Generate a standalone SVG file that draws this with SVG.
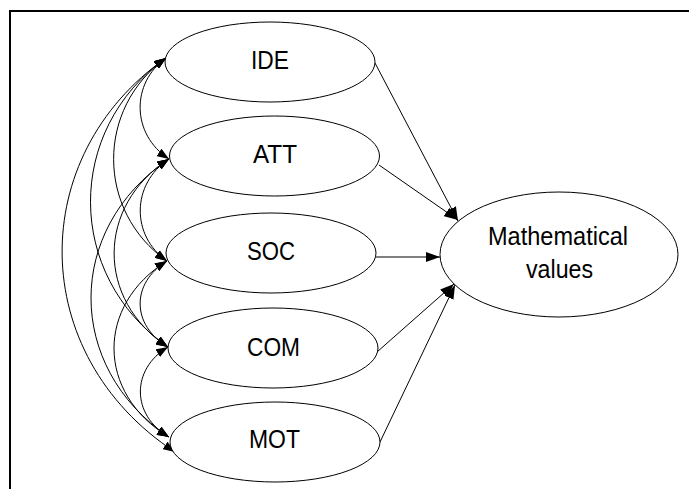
<svg xmlns="http://www.w3.org/2000/svg" width="689" height="489" viewBox="0 0 689 489">
<style>
.node ellipse{fill:#fff;stroke:#000;stroke-width:1}
.node text{font-family:"Liberation Sans",Arial,sans-serif;font-size:25px;fill:#000;text-anchor:middle}
.conn path,.conn line{fill:none;stroke:#000;stroke-width:1}
</style>
<defs>
<marker id="ah" viewBox="0 0 12 9" refX="12" refY="4.5" markerWidth="12" markerHeight="9" markerUnits="userSpaceOnUse" orient="auto-start-reverse"><path d="M0,0 L12,4.5 L0,9 z" fill="#000"/></marker>
<marker id="ah2" viewBox="0 0 14 10" refX="14" refY="5" markerWidth="14" markerHeight="10" markerUnits="userSpaceOnUse" orient="auto"><path d="M0,0 L14,5 L0,10 z" fill="#000"/></marker>
</defs>
<rect x="0" y="0" width="689" height="489" fill="#fff"/>
<rect x="10" y="11" width="700" height="500" fill="none" stroke="#000" stroke-width="2"/>
<g class="conn" id="connectors">
<path d="M166,58 C131,83 131,134 169,159" marker-start="url(#ah)" marker-end="url(#ah)"/>
<path d="M169,159 C131,184 131,236 167,261" marker-start="url(#ah)" marker-end="url(#ah)"/>
<path d="M167,261 C131,283 131,325 168,347" marker-start="url(#ah)" marker-end="url(#ah)"/>
<path d="M168,347 C131,369 131,415 169,437" marker-start="url(#ah)" marker-end="url(#ah)"/>
<path d="M166,58 C96,108 96,211 167,261" marker-start="url(#ah)" marker-end="url(#ah)"/>
<path d="M169,159 C96,206 96,300 168,347" marker-start="url(#ah)" marker-end="url(#ah)"/>
<path d="M167,261 C96,305 96,393 169,437" marker-start="url(#ah)" marker-end="url(#ah)"/>
<path d="M166,58 C65,130 65,275 168,347" marker-start="url(#ah)" marker-end="url(#ah)"/>
<path d="M169,159 C65,229 65,367 169,437" marker-start="url(#ah)" marker-end="url(#ah)"/>
<path d="M166,58 C26,156 26,354 175,452" marker-start="url(#ah)" marker-end="url(#ah)"/>
<line x1="375" y1="63" x2="458" y2="221" marker-end="url(#ah2)"/>
<line x1="379" y1="165" x2="458" y2="220" marker-end="url(#ah2)"/>
<line x1="376" y1="257" x2="440" y2="257" marker-end="url(#ah2)"/>
<line x1="377" y1="352" x2="454" y2="284" marker-end="url(#ah2)"/>
<line x1="380" y1="442" x2="455" y2="285" marker-end="url(#ah2)"/>
</g>
<g class="node" id="IDE"><ellipse cx="270" cy="62" rx="105" ry="40"/><text x="270" y="69" textLength="38" lengthAdjust="spacingAndGlyphs">IDE</text></g>
<g class="node" id="ATT"><ellipse cx="274.5" cy="156" rx="105" ry="40"/><text x="275" y="163" textLength="44" lengthAdjust="spacingAndGlyphs">ATT</text></g>
<g class="node" id="SOC"><ellipse cx="271" cy="253" rx="105" ry="40"/><text x="271" y="260" textLength="48" lengthAdjust="spacingAndGlyphs">SOC</text></g>
<g class="node" id="COM"><ellipse cx="273" cy="348" rx="105" ry="40"/><text x="273.5" y="356" textLength="53" lengthAdjust="spacingAndGlyphs">COM</text></g>
<g class="node" id="MOT"><ellipse cx="275" cy="442" rx="105" ry="40"/><text x="274.5" y="448" textLength="51" lengthAdjust="spacingAndGlyphs">MOT</text></g>
<g class="node" id="MathematicalValues"><ellipse cx="559" cy="254.5" rx="119" ry="62.5"/><text x="558" y="245" textLength="140" lengthAdjust="spacingAndGlyphs">Mathematical</text><text x="559.5" y="278" textLength="67" lengthAdjust="spacingAndGlyphs">values</text></g>
</svg>
